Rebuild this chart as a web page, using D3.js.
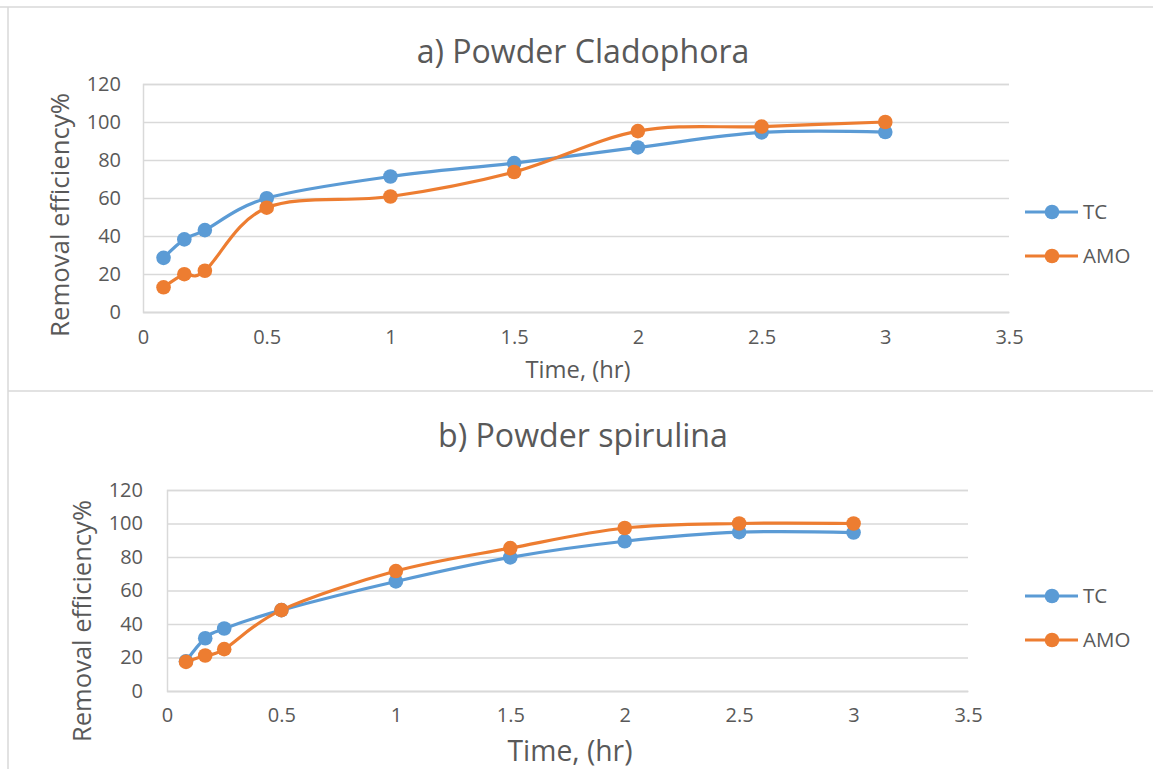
<!DOCTYPE html>
<html>
<head>
<meta charset="utf-8">
<script src="https://cdn.jsdelivr.net/npm/d3@7"></script>
<style>
  html, body { margin: 0; padding: 0; background: #fff; }
  svg { display: block; }
  text { font-family: "Open Sans", "Noto Sans", sans-serif; fill: #595959; }
</style>
</head>
<body>
<svg id="chart" width="1153" height="769"></svg>
<script>
// ---------- data ----------
const times = [0.083, 0.167, 0.25, 0.5, 1, 1.5, 2, 2.5, 3];
const seriesNames = ["TC", "AMO"];
const cladophoraTC  = [28.5, 38.2, 43.1, 59.9, 71.3, 78.4, 86.6, 94.5, 94.7];
const cladophoraAMO = [13.0, 19.9, 21.7, 54.9, 60.8, 73.7, 95.2, 97.6, 100];
const spirulinaTC   = [17.8, 31.5, 37.3, 48.3, 65.4, 79.8, 89.4, 94.8, 94.6];
const spirulinaAMO  = [17.4, 21.2, 25.0, 48.3, 71.6, 85.3, 97.3, 100, 100];
const xTicks = [0, 0.5, 1, 1.5, 2, 2.5, 3, 3.5];
const yTicks = [0, 20, 40, 60, 80, 100, 120];
const titles = ["a) Powder Cladophora", "b) Powder spirulina"];
const xTitle = "Time, (hr)";
const yTitle = "Removal efficiency%";

// ---------- style ----------
const colors = ["#5B9BD5", "#ED7D31"];
const gridColor = "#D9D9D9";
const textColor = "#595959";

const svg = d3.select("#chart");

// outer frame
svg.append("line").attr("x1", 8).attr("x2", 8).attr("y1", 7).attr("y2", 769)
  .attr("stroke", gridColor).attr("stroke-width", 1.5);
svg.append("line").attr("x1", 0).attr("x2", 1153).attr("y1", 7).attr("y2", 7)
  .attr("stroke", gridColor).attr("stroke-width", 1.5);
svg.append("line").attr("x1", 8).attr("x2", 1153).attr("y1", 391).attr("y2", 391)
  .attr("stroke", gridColor).attr("stroke-width", 1.5);

// fit text to a target width by adjusting font size
function fit(sel, target, base) {
  sel.style("font-size", base + "px");
  const w = sel.node().getComputedTextLength();
  sel.style("font-size", (base * target / w).toFixed(2) + "px");
}

const panels = [
  { title: titles[0], tc: cladophoraTC, amo: cladophoraAMO,
    left: 143, right: 1009, top: 84, bottom: 312,
    titleY: 63, titleW: 333, titleX: 583,
    yTitleX: 60, yTitleY: 215, yTitleW: 244,
    xTitleX: 578, xTitleY: 378, xTitleW: 105,
    yLabelOff: 22, xLabelOff: 40, legendY: [212, 256] },
  { title: titles[1], tc: spirulinaTC, amo: spirulinaAMO,
    left: 167, right: 968, top: 490, bottom: 691,
    titleY: 447, titleW: 290, titleX: 583,
    yTitleX: 82, yTitleY: 621, yTitleW: 242,
    xTitleX: 570, xTitleY: 761, xTitleW: 125,
    yLabelOff: 24, xLabelOff: 39, legendY: [596, 640] }
];

panels.forEach(p => {
  const x = d3.scaleLinear().domain([0, 3.5]).range([p.left, p.right]);
  const y = d3.scaleLinear().domain([0, 120]).range([p.bottom, p.top]);
  const g = svg.append("g");

  // gridlines
  const yAxis = d3.axisLeft(y).tickValues(yTicks).tickSize(-(p.right - p.left))
    .tickPadding(p.yLabelOff).tickFormat(d3.format("d"));
  const ya = g.append("g").attr("transform", `translate(${p.left},0)`).call(yAxis);
  ya.select(".domain").attr("stroke", gridColor).attr("stroke-width", 1.5);
  ya.selectAll(".tick line").attr("stroke", gridColor).attr("stroke-width", 1.5);
  ya.selectAll(".tick text").attr("fill", textColor)
    .style("font-family", '"Open Sans", sans-serif').style("font-size", "20px");

  const xAxis = d3.axisBottom(x).tickValues(xTicks).tickSize(0)
    .tickPadding(p.xLabelOff - 22).tickFormat(d => d3.format("")(d));
  const xa = g.append("g").attr("transform", `translate(0,${p.bottom})`).call(xAxis);
  xa.select(".domain").attr("stroke", gridColor).attr("stroke-width", 1.5);
  xa.selectAll(".tick text").attr("fill", textColor)
    .style("font-family", '"Open Sans", sans-serif').style("font-size", "20px");

  // title
  const t = g.append("text").attr("x", p.titleX).attr("y", p.titleY)
    .attr("text-anchor", "middle").text(p.title);
  fit(t, p.titleW, 27);

  // axis titles
  const yt = g.append("text")
    .attr("transform", `translate(${p.yTitleX},${p.yTitleY}) rotate(-90)`)
    .attr("text-anchor", "middle").attr("dy", "0.35em").text(yTitle);
  fit(yt, p.yTitleW, 22);
  const xt = g.append("text").attr("x", p.xTitleX).attr("y", p.xTitleY)
    .attr("text-anchor", "middle").text(xTitle);
  fit(xt, p.xTitleW, 20);

  // series
  const line = d3.line().x((d, i) => x(times[i])).y(d => y(d))
    .curve(d3.curveCardinal.tension(0));
  [p.tc, p.amo].forEach((vals, si) => {
    g.append("path").datum(vals).attr("d", line).attr("fill", "none")
      .attr("stroke", colors[si]).attr("stroke-width", 3.2)
      .attr("stroke-linecap", "round");
    g.selectAll(null).data(vals).enter().append("circle")
      .attr("cx", (d, i) => x(times[i])).attr("cy", d => y(d)).attr("r", 7.3)
      .attr("fill", colors[si]);
  });

  // legend
  seriesNames.forEach((name, si) => {
    const ly = p.legendY[si];
    g.append("line").attr("x1", 1025).attr("x2", 1078).attr("y1", ly).attr("y2", ly)
      .attr("stroke", colors[si]).attr("stroke-width", 3.2);
    g.append("circle").attr("cx", 1052).attr("cy", ly).attr("r", 7.3).attr("fill", colors[si]);
    g.append("text").attr("x", 1083).attr("y", ly).attr("dy", "0.36em")
      .style("font-size", "20.5px").text(name);
  });
});
</script>
</body>
</html>
